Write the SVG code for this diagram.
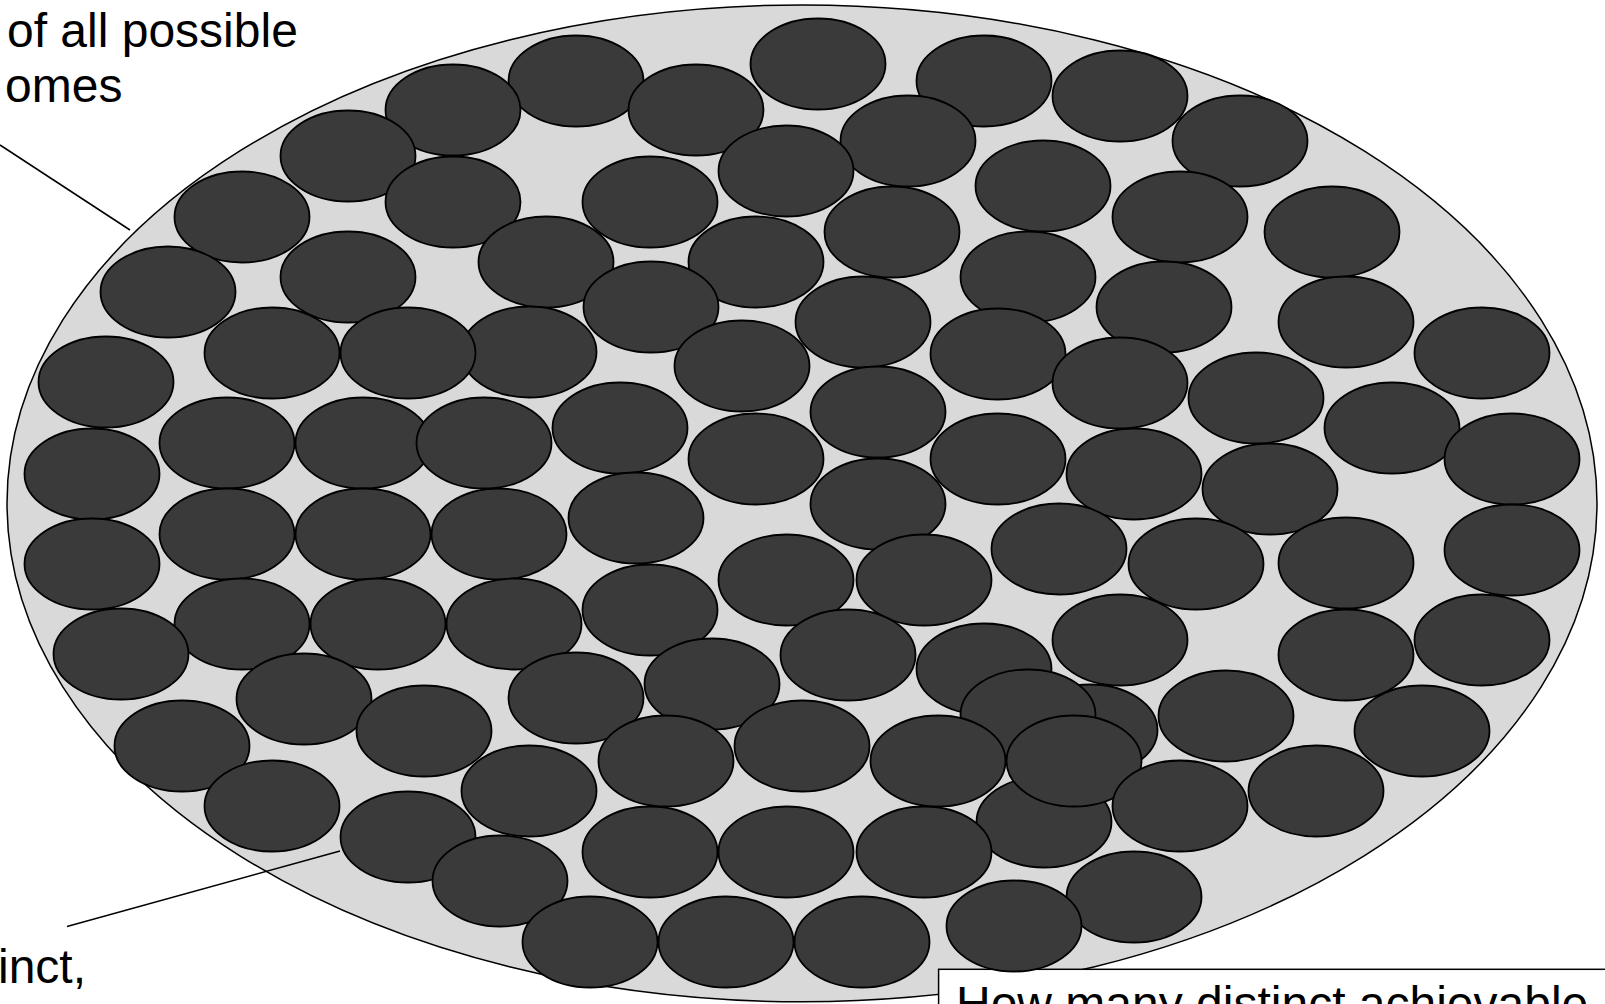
<svg xmlns="http://www.w3.org/2000/svg" width="1605" height="1004" viewBox="0 0 1605 1004">
<style>
.bg{fill:#ffffff}
.set{fill:#d9d9d9;stroke:#000;stroke-width:1.5}
.o{fill:#3a3a3a;stroke:#000;stroke-width:1.8}
.box{fill:#ffffff;stroke:#000;stroke-width:1.5}
.lbl{font-family:"Liberation Sans",Arial,Helvetica,sans-serif;font-size:48px;fill:#000}
.conn{stroke:#000;stroke-width:1.5;fill:none}
</style>
<defs>
<ellipse id="oc" rx="67.5" ry="45.5"/>
</defs>
<rect class="bg" x="0" y="0" width="1605" height="1004"/>
<g id="outcome-set">
<ellipse class="set" cx="802" cy="503.4" rx="795" ry="498.4"/>
</g>
<g id="question-box">
<rect class="box" x="938.6" y="969.3" width="700" height="100"/>
<text class="lbl" x="956" y="1020">How many distinct achievable</text>
</g>
<g id="label-top">
<text class="lbl" x="7" y="47">of all possible</text>
<text class="lbl" x="5" y="102">omes</text>
</g>
<g id="label-bottom">
<text class="lbl" x="-2" y="983">inct,</text>
</g>
<g id="connectors">
<line class="conn" x1="0" y1="145" x2="130" y2="230"/>
<line class="conn" x1="67" y1="926.5" x2="340" y2="851"/>
</g>
<g id="outcomes" class="o">
<use id="n73" href="#oc" x="1090" y="730"/>
<use id="n3" href="#oc" x="818" y="64"/>
<use id="n1" href="#oc" x="576" y="81"/>
<use id="n4" href="#oc" x="984" y="81"/>
<use id="n5" href="#oc" x="1120" y="96"/>
<use id="n6" href="#oc" x="453" y="110"/>
<use id="n2" href="#oc" x="696" y="110"/>
<use id="n9" href="#oc" x="908" y="141"/>
<use id="n10" href="#oc" x="1240" y="141"/>
<use id="n7" href="#oc" x="348" y="156"/>
<use id="n8" href="#oc" x="786" y="171"/>
<use id="n14" href="#oc" x="1043" y="186"/>
<use id="n12" href="#oc" x="453" y="202"/>
<use id="n13" href="#oc" x="650" y="202"/>
<use id="n11" href="#oc" x="242" y="217"/>
<use id="n15" href="#oc" x="1180" y="217"/>
<use id="n16" href="#oc" x="892" y="232"/>
<use id="n17" href="#oc" x="1332" y="232"/>
<use id="n18" href="#oc" x="546" y="262"/>
<use id="n19" href="#oc" x="756" y="262"/>
<use id="n20" href="#oc" x="348" y="277"/>
<use id="n21" href="#oc" x="1028" y="277"/>
<use id="n22" href="#oc" x="168" y="292"/>
<use id="n23" href="#oc" x="651" y="307"/>
<use id="n24" href="#oc" x="1164" y="307"/>
<use id="n25" href="#oc" x="863" y="322"/>
<use id="n26" href="#oc" x="1346" y="322"/>
<use id="n29" href="#oc" x="529" y="352"/>
<use id="n27" href="#oc" x="272" y="353"/>
<use id="n28" href="#oc" x="408" y="353"/>
<use id="n32" href="#oc" x="1482" y="353"/>
<use id="n31" href="#oc" x="998" y="354"/>
<use id="n30" href="#oc" x="742" y="366"/>
<use id="n33" href="#oc" x="106" y="382"/>
<use id="n34" href="#oc" x="1120" y="383"/>
<use id="n35" href="#oc" x="1256" y="398"/>
<use id="n36" href="#oc" x="878" y="412"/>
<use id="n37" href="#oc" x="620" y="428"/>
<use id="n42" href="#oc" x="1392" y="428"/>
<use id="n38" href="#oc" x="227" y="443"/>
<use id="n39" href="#oc" x="363" y="443"/>
<use id="n40" href="#oc" x="484" y="443"/>
<use id="n41" href="#oc" x="756" y="459"/>
<use id="n43" href="#oc" x="998" y="459"/>
<use id="n44" href="#oc" x="1512" y="459"/>
<use id="n45" href="#oc" x="92" y="474"/>
<use id="n46" href="#oc" x="1134" y="474"/>
<use id="n47" href="#oc" x="1270" y="489"/>
<use id="n48" href="#oc" x="878" y="504"/>
<use id="n49" href="#oc" x="636" y="518"/>
<use id="n50" href="#oc" x="227" y="534"/>
<use id="n51" href="#oc" x="363" y="534"/>
<use id="n52" href="#oc" x="499" y="534"/>
<use id="n53" href="#oc" x="1059" y="549"/>
<use id="n54" href="#oc" x="1512" y="550"/>
<use id="n57" href="#oc" x="1346" y="563"/>
<use id="n55" href="#oc" x="92" y="564"/>
<use id="n56" href="#oc" x="1196" y="564"/>
<use id="n58" href="#oc" x="786" y="580"/>
<use id="n59" href="#oc" x="924" y="580"/>
<use id="n60" href="#oc" x="650" y="610"/>
<use id="n61" href="#oc" x="242" y="624"/>
<use id="n62" href="#oc" x="378" y="624"/>
<use id="n63" href="#oc" x="514" y="624"/>
<use id="n65" href="#oc" x="1120" y="640"/>
<use id="n66" href="#oc" x="1482" y="640"/>
<use id="n64" href="#oc" x="121" y="654"/>
<use id="n67" href="#oc" x="848" y="655"/>
<use id="n68" href="#oc" x="1346" y="655"/>
<use id="n69" href="#oc" x="984" y="669"/>
<use id="n72" href="#oc" x="712" y="684"/>
<use id="n71" href="#oc" x="576" y="698"/>
<use id="n70" href="#oc" x="304" y="699"/>
<use id="n74" href="#oc" x="1028" y="715"/>
<use id="n75" href="#oc" x="1226" y="716"/>
<use id="n76" href="#oc" x="424" y="731"/>
<use id="n77" href="#oc" x="1422" y="731"/>
<use id="n78" href="#oc" x="182" y="746"/>
<use id="n80" href="#oc" x="802" y="746"/>
<use id="n86" href="#oc" x="1044" y="822"/>
<use id="n79" href="#oc" x="666" y="761"/>
<use id="n81" href="#oc" x="938" y="761"/>
<use id="n82" href="#oc" x="1074" y="761"/>
<use id="n83" href="#oc" x="529" y="791"/>
<use id="n85" href="#oc" x="1316" y="791"/>
<use id="n84" href="#oc" x="272" y="806"/>
<use id="n87" href="#oc" x="1180" y="806"/>
<use id="n88" href="#oc" x="408" y="837"/>
<use id="n89" href="#oc" x="650" y="852"/>
<use id="n90" href="#oc" x="786" y="852"/>
<use id="n91" href="#oc" x="924" y="852"/>
<use id="n92" href="#oc" x="500" y="881"/>
<use id="n93" href="#oc" x="1134" y="897"/>
<use id="n97" href="#oc" x="1014" y="926"/>
<use id="n94" href="#oc" x="590" y="942"/>
<use id="n95" href="#oc" x="726" y="942"/>
<use id="n96" href="#oc" x="862" y="942"/>
</g>
</svg>
